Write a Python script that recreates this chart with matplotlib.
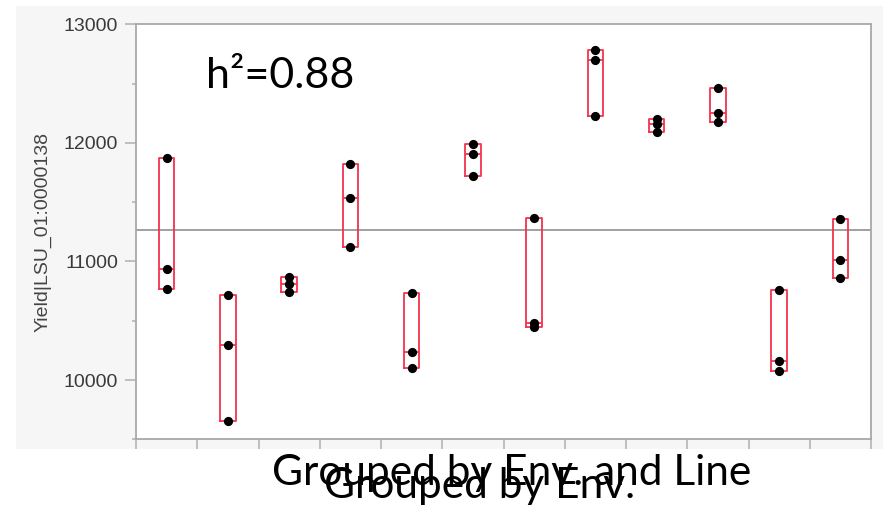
import numpy as np
import matplotlib
matplotlib.use("Agg")
import matplotlib.pyplot as plt
from matplotlib.patches import Rectangle

groups = list(range(1, 13))
rep_a = [11870, 10715, 10865, 11825, 10738, 11993, 11366, 12784, 12199, 12459, 10757, 11354]
rep_b = [10940, 10297, 10810, 11536, 10238, 11909, 10479, 12703, 12157, 12249, 10163, 11012]
rep_c = [10770, 9653, 10740, 11124, 10098, 11724, 10451, 12229, 12094, 12178, 10079, 10864]

y_major = [10000, 11000, 12000, 13000]
y_minor = [9500, 10500, 11500, 12500]
y_label = "Yield|LSU_01:0000138"
note = "h\u00b2=0.88"

plt.rcParams["font.family"] = ["Liberation Sans", "DejaVu Sans"]

W, H = 883, 508
fig = plt.figure(figsize=(W / 100, H / 100), dpi=100)
fig.patch.set_facecolor("white")
fig.patches.append(Rectangle((16 / W, 59 / H), 1 - 16 / W, (502 - 59) / H,
                             transform=fig.transFigure, facecolor="#f6f6f6",
                             edgecolor="none", zorder=-5))

ax = fig.add_axes([136 / W, (H - 439.3) / H, (871 - 136) / W, (439.3 - 24.3) / H])
ax.set_facecolor("white")

data = np.array([rep_a, rep_b, rep_c]).T
red = "#f5334f"

stats = []
for vals in data:
    q1, med, q3 = np.percentile(vals, [25, 50, 75], method="weibull")
    stats.append(dict(med=med, q1=q1, q3=q3, whislo=q1, whishi=q3, fliers=[]))
ax.bxp(stats, positions=groups, widths=0.25, showcaps=False, showfliers=False,
       boxprops=dict(color=red, linewidth=1.3),
       medianprops=dict(color=red, linewidth=1.3),
       whiskerprops=dict(color=red, linewidth=0))

for i, g in enumerate(groups):
    ax.scatter([g] * len(data[i]), data[i], s=44, color="black", zorder=4,
               linewidths=0)

ax.axhline(data.mean(), color="#999999", linewidth=1.3, zorder=1)

ax.set_xlim(0.5, 12.5)
ax.set_ylim(9500, 13000)
ax.set_xticks(np.arange(0.5, 12.6, 1))
ax.set_xticklabels([])
ax.set_yticks(y_major)
ax.set_yticks(y_minor, minor=True)
ax.tick_params(axis="x", length=7.2, width=1.2, color="#b4b4b4")
ax.tick_params(axis="y", which="major", length=8, width=1.2, color="#b4b4b4",
               labelsize=14, labelcolor="#3a3a3a", pad=5)
ax.tick_params(axis="y", which="minor", length=3, width=1.2, color="#b4b4b4")
for s in ax.spines.values():
    s.set_color("#a8a8a8")
    s.set_linewidth(1.3)

ax.set_ylabel(y_label, fontsize=14, color="#444444")
ax.yaxis.set_label_coords(-0.115, 0.5)

ax.text(206 / W, 1 - 88 / H, note, transform=fig.transFigure, fontsize=31,
        family=["Lato", "DejaVu Sans"], ha="left", va="baseline")

fig.text(512 / W, 1 - 485 / H, "Grouped by Env. and Line", fontsize=30.5,
         family=["Lato", "DejaVu Sans"], ha="center", va="baseline")
fig.text(480 / W, 1 - 498 / H, "Grouped by Env.", fontsize=30.5,
         family=["Lato", "DejaVu Sans"], ha="center", va="baseline")

fig.savefig("out.png", dpi=100)
